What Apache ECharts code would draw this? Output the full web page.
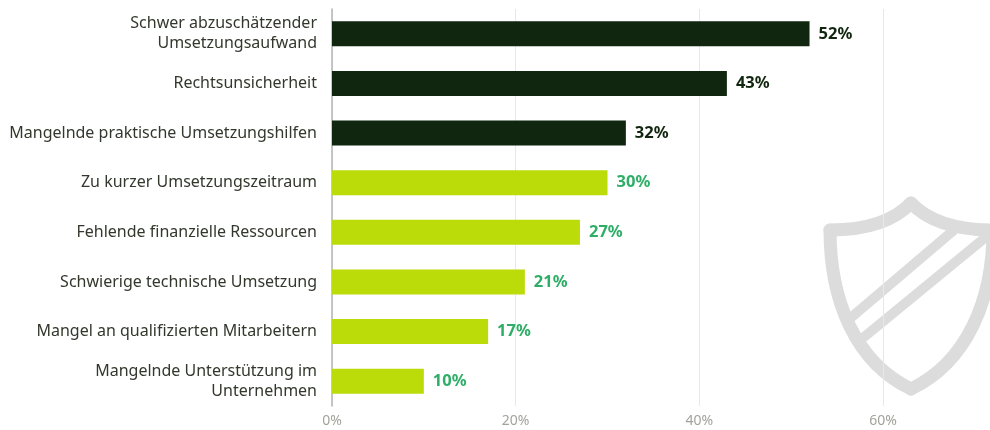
<!DOCTYPE html>
<html>
<head>
<meta charset="utf-8">
<style>html,body{margin:0;padding:0;background:#fff}#chart{width:990px;height:430px}</style>
<script src="https://cdn.jsdelivr.net/npm/echarts@6/dist/echarts.min.js"></script>
</head>
<body>
<div id="chart"></div>
<script>
const categories = [
  'Schwer abzuschätzender\nUmsetzungsaufwand',
  'Rechtsunsicherheit',
  'Mangelnde praktische Umsetzungshilfen',
  'Zu kurzer Umsetzungszeitraum',
  'Fehlende finanzielle Ressourcen',
  'Schwierige technische Umsetzung',
  'Mangel an qualifizierten Mitarbeitern',
  'Mangelnde Unterstützung im\nUnternehmen'
];
const values = [52, 43, 32, 30, 27, 21, 17, 10];
const barColors = ['#11260f', '#11260f', '#11260f', '#bbdc08', '#bbdc08', '#bbdc08', '#bbdc08', '#bbdc08'];
const labelColors = ['#11260f', '#11260f', '#11260f', '#2fae68', '#2fae68', '#2fae68', '#2fae68', '#2fae68'];

const fontFamily = '"Noto Sans", sans-serif';
const shieldStroke = { fill: 'none', stroke: '#dcdcdc', lineWidth: 13, lineCap: 'round' };
const bandStroke = { stroke: '#dcdcdc', lineWidth: 10 };

// One outline segment of the shield emblem
const curve = (x1, y1, cpx1, cpy1, cpx2, cpy2, x2, y2) => ({
  type: 'bezierCurve', z: -1,
  shape: { x1, y1, cpx1, cpy1, cpx2, cpy2, x2, y2 },
  style: shieldStroke
});
const band = (x1, y1, x2, y2) => ({ type: 'line', z: -1, shape: { x1, y1, x2, y2 }, style: bandStroke });

const chart = echarts.init(document.getElementById('chart'), null, { renderer: 'canvas' });
chart.setOption({
  backgroundColor: '#fff',
  animation: false,
  grid: { left: 332, top: 9, width: 551, height: 397 },
  xAxis: {
    type: 'value', min: 0, max: 60, interval: 20,
    axisLine: { show: false },
    axisTick: { show: false },
    axisLabel: { color: '#a3a39b', fontSize: 14, fontFamily, margin: 8, formatter: '{value}%' },
    splitLine: { show: true, lineStyle: { color: '#e8e8e8', width: 1 } }
  },
  yAxis: {
    type: 'category', inverse: true, data: categories,
    axisLine: { show: true, lineStyle: { color: '#b5b5b5', width: 1.5 } },
    axisTick: { show: false },
    axisLabel: { color: '#33382c', fontSize: 16, lineHeight: 20, fontFamily, margin: 15, align: 'right' }
  },
  series: [{
    type: 'bar',
    barWidth: 25,
    data: values.map((v, i) => ({
      value: v,
      itemStyle: { color: barColors[i] },
      label: { color: labelColors[i] }
    })),
    label: {
      show: true, position: 'right', distance: 9,
      fontFamily, fontSize: 16.5, fontWeight: 'bold', formatter: '{c}%'
    }
  }],
  // Faint shield emblem behind the plot
  graphic: [{
    type: 'group', silent: true, z: -1,
    children: [
      curve(911, 203, 893, 222, 865, 230, 830, 230),
      curve(830, 230, 830, 300, 855, 362, 911, 389),
      curve(911, 389, 967, 362, 993, 300, 993, 230),
      curve(993, 230, 957, 230, 929, 222, 911, 203),
      band(954, 230, 847, 321),
      band(992, 232, 858, 342)
    ]
  }]
});
</script>
</body>
</html>
